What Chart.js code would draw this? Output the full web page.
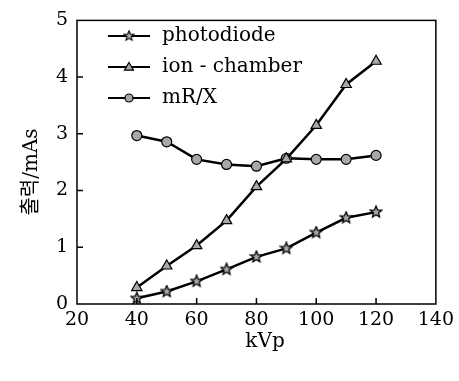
<!DOCTYPE html>
<html>
<head>
<meta charset="utf-8">
<script src="https://cdn.jsdelivr.net/npm/chart.js@4/dist/chart.umd.min.js"></script>
<style>
  html, body { margin: 0; padding: 0; background: #fff; }
  #wrap { width: 459px; height: 381px; }
</style>
</head>
<body>
<div id="wrap"><canvas id="c" width="459" height="381"></canvas></div>
<script>
const kvp = [40, 50, 60, 70, 80, 90, 100, 110, 120];
const photodiode = [0.10, 0.22, 0.40, 0.61, 0.83, 0.98, 1.26, 1.52, 1.62];
const ionChamber = [0.29, 0.67, 1.03, 1.47, 2.07, 2.56, 3.15, 3.87, 4.28];
const mrx = [2.97, 2.86, 2.55, 2.46, 2.43, 2.57, 2.55, 2.55, 2.62];
const seriesNames = ["photodiode", "ion - chamber", "mR/X"];
const xTitle = "kVp";
const yTitle = "출력/mAs";

const SERIF = '"DejaVu Serif", "Liberation Serif", serif';
const MARK_FILL = "#a8a8a8";

// five-point star marker (Chart.js "star" is an asterisk)
function makeStar(size) {
  const cv = document.createElement("canvas");
  cv.width = size; cv.height = size;
  const g = cv.getContext("2d");
  const cx = size / 2, cy = size / 2, ro = size / 2 - 1, ri = ro * 0.45;
  g.beginPath();
  for (let i = 0; i < 10; i++) {
    const r = i % 2 ? ri : ro;
    const a = -Math.PI / 2 + i * Math.PI / 5;
    g.lineTo(cx + r * Math.cos(a), cy + r * Math.sin(a));
  }
  g.closePath();
  g.fillStyle = MARK_FILL;
  g.fill();
  g.lineWidth = 1.3;
  g.strokeStyle = "#000";
  g.stroke();
  return cv;
}
const star = makeStar(14);

function pts(vals) {
  return kvp.map((x, i) => ({ x, y: vals[i] }));
}

const styles = [
  { pointStyle: star, pointRadius: 7 },
  { pointStyle: "triangle", pointRadius: 6 },
  { pointStyle: "circle", pointRadius: 5 },
];

const boxAndTicks = {
  id: "boxAndTicks",
  afterDraw(chart) {
    const { ctx, chartArea: a, scales } = chart;
    ctx.save();
    ctx.strokeStyle = "#000";
    ctx.lineWidth = 1.5;
    ctx.strokeRect(a.left, a.top, a.right - a.left, a.bottom - a.top);
    ctx.beginPath();
    scales.x.ticks.forEach(t => {
      const px = scales.x.getPixelForValue(t.value);
      if (px <= a.left + 1 || px >= a.right - 1) return;
      ctx.moveTo(px, a.bottom); ctx.lineTo(px, a.bottom - 6);
    });
    scales.y.ticks.forEach(t => {
      const py = scales.y.getPixelForValue(t.value);
      if (py <= a.top + 1 || py >= a.bottom - 1) return;
      ctx.moveTo(a.left, py); ctx.lineTo(a.left + 6, py);
    });
    ctx.stroke();

    // legend inside plot
    ctx.font = "20px " + SERIF;
    ctx.textBaseline = "middle";
    ctx.fillStyle = "#000";
    const rows = [36, 67, 98];
    chart.data.datasets.forEach((ds, i) => {
      const y = rows[i];
      ctx.beginPath();
      ctx.lineWidth = 2.2;
      ctx.moveTo(108, y); ctx.lineTo(150, y);
      ctx.stroke();
      const r = 4.5;
      ctx.lineWidth = 1.2;
      ctx.fillStyle = MARK_FILL;
      if (i === 0) {
        ctx.drawImage(star, 129 - 6, y - 6, 12, 12);
      } else if (i === 1) {
        ctx.beginPath();
        ctx.moveTo(129, y - r); ctx.lineTo(129 + r, y + r * 0.7); ctx.lineTo(129 - r, y + r * 0.7);
        ctx.closePath(); ctx.fill(); ctx.stroke();
      } else {
        ctx.beginPath();
        ctx.arc(129, y, 4, 0, Math.PI * 2);
        ctx.fill(); ctx.stroke();
      }
      ctx.fillStyle = "#000";
      ctx.fillText(ds.label, 162, y);
    });

    // axis titles
    ctx.textAlign = "center";
    ctx.fillText(xTitle, 265, 342);
    ctx.translate(32, 172);
    ctx.rotate(-Math.PI / 2);
    ctx.font = '20px "DejaVu Serif", "Noto Sans CJK KR", serif';
    ctx.fillText(yTitle, 0, 0);
    ctx.restore();
  }
};

new Chart(document.getElementById("c"), {
  type: "line",
  data: {
    datasets: [photodiode, ionChamber, mrx].map((vals, i) => ({
      label: seriesNames[i],
      data: pts(vals),
      borderColor: "#000",
      borderWidth: 2.5,
      tension: 0,
      pointBackgroundColor: MARK_FILL,
      pointBorderColor: "#000",
      pointBorderWidth: 1.2,
      ...styles[i],
    })),
  },
  options: {
    responsive: false,
    animation: false,
    layout: { padding: { left: 0, right: 18, top: 13, bottom: 0 } },
    plugins: { legend: { display: false }, tooltip: { enabled: false } },
    scales: {
      x: {
        type: "linear",
        min: 20, max: 140,
        afterFit: s => { s.height = 77; },
        ticks: { stepSize: 20, color: "#000", padding: 5, font: { family: SERIF, size: 19 } },
        grid: { display: false, drawTicks: false },
        border: { display: false },
      },
      y: {
        min: 0, max: 5,
        afterFit: s => { s.width = 77; },
        ticks: { stepSize: 1, color: "#000", padding: 9, font: { family: SERIF, size: 19 } },
        grid: { display: false, drawTicks: false },
        border: { display: false },
      },
    },
  },
  plugins: [boxAndTicks],
});
</script>
</body>
</html>
